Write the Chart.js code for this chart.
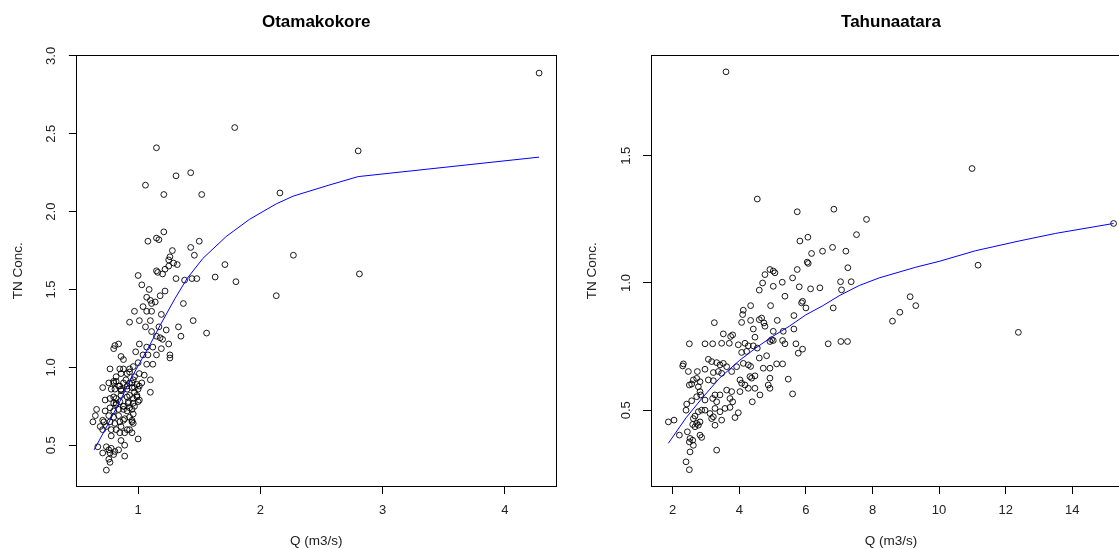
<!DOCTYPE html>
<html>
<head>
<meta charset="utf-8">
<script src="https://cdn.jsdelivr.net/npm/chart.js@4.4.0/dist/chart.umd.min.js"></script>
<style>
  html, body { margin: 0; padding: 0; background: #fff; width: 1119px; height: 549px; overflow: hidden; }
  canvas { position: absolute; top: 0; }
  #ota { left: 0; }
  #tah { left: 560px; }
</style>
</head>
<body>
<canvas id="ota" width="560" height="549"></canvas>
<canvas id="tah" width="580" height="549"></canvas>
<script>
var xLabel = 'Q (m3/s)';
var yLabel = 'TN Conc.';

// Otamakokore: flow vs total nitrogen
var otaQ = [
  4.28,1.79,1.15,2.80,1.43,1.31,1.06,1.21,1.52,2.16,
  1.21,1.08,1.15,1.17,1.50,1.43,1.46,2.27,1.28,1.26,
  1.29,1.32,1.25,1.71,1.22,1.20,1.15,1.16,1.00,1.31,
  1.38,1.44,1.48,1.63,1.80,2.81,2.13,1.03,1.09,1.22,
  1.25,
  1.07,1.10,1.14,1.18,1.11,1.37,1.04,0.97,1.07,1.11,
  1.19,1.01,1.10,0.93,1.06,1.45,1.33,1.35,1.56,1.17,
  1.23,1.11,1.15,1.18,1.20,0.84,0.81,0.80,1.01,1.07,
  1.12,1.19,1.25,0.98,1.04,1.08,1.15,1.26,1.26,0.86,
  0.88,1.12,1.07,1.00,0.96,
  0.77,0.85,0.88,0.93,0.82,0.86,0.91,0.93,0.97,1.01,
  1.05,1.10,0.76,0.80,0.82,0.85,0.88,0.91,0.93,0.96,
  0.99,1.03,0.71,0.78,0.81,0.86,0.91,0.95,0.97,1.00,
  1.10,0.73,0.80,0.82,0.86,0.91,0.93,0.96,0.99,1.01,
  0.80,0.82,0.85,0.88,0.92,0.96,1.00,0.66,0.73,0.77,
  0.80,0.84,0.88,0.91,0.93,0.97,0.65,0.76,0.80,0.84,
  0.89,0.93,0.96,0.95,0.63,0.71,0.77,0.81,0.85,0.88,
  0.95,0.69,0.74,0.78,0.71,0.82,0.86,0.91,0.93,0.95,
  0.85,0.89,0.78,0.86,1.00,0.67,0.74,0.76,0.78,0.81,
  0.84,0.89,0.71,0.77,0.80,0.76,0.89,0.77,0.74,
  0.80,0.84,0.86,0.90,0.95,0.97,0.99,1.01,0.92,0.88,
  0.95,0.82,0.77,0.72,0.96
];
var otaTN = [
  2.89,2.54,2.41,2.39,2.25,2.23,2.17,2.11,2.11,2.12,
  1.87,1.81,1.83,1.82,1.81,1.77,1.72,1.72,1.75,1.71,
  1.67,1.66,1.65,1.66,1.63,1.60,1.62,1.61,1.59,1.57,
  1.56,1.57,1.57,1.58,1.55,1.60,1.46,1.53,1.50,1.49,
  1.69,
  1.45,1.43,1.42,1.46,1.41,1.41,1.39,1.36,1.36,1.36,
  1.34,1.30,1.30,1.29,1.26,1.30,1.26,1.20,1.22,1.26,
  1.24,1.23,1.20,1.19,1.18,1.15,1.14,1.12,1.15,1.13,
  1.13,1.12,1.15,1.10,1.08,1.08,1.08,1.08,1.06,1.07,
  1.05,1.02,1.02,1.03,1.005,
  0.99,0.99,0.99,0.99,0.94,0.96,0.96,0.97,0.94,0.96,
  0.95,0.92,0.90,0.90,0.91,0.88,0.90,0.88,0.90,0.92,
  0.89,0.90,0.87,0.86,0.86,0.86,0.86,0.87,0.84,0.86,
  0.84,0.79,0.81,0.80,0.82,0.81,0.82,0.80,0.81,0.79,
  0.77,0.76,0.78,0.75,0.77,0.77,0.78,0.73,0.72,0.74,
  0.72,0.73,0.73,0.72,0.74,0.75,0.69,0.69,0.68,0.69,
  0.67,0.68,0.70,0.66,0.65,0.66,0.65,0.64,0.65,0.66,
  0.65,0.62,0.62,0.60,0.60,0.60,0.62,0.60,0.60,0.58,
  0.58,0.58,0.56,0.53,0.54,0.49,0.49,0.47,0.48,0.46,
  0.47,0.50,0.45,0.45,0.44,0.41,0.43,0.39,0.34,
  0.91,0.88,0.85,0.92,0.90,0.87,0.82,0.88,0.78,0.75,
  0.73,0.77,0.80,0.65,0.64
];
// smoothed curve
var otaFitQ  = [0.64,0.75,0.85,0.93,1.00,1.10,1.18,1.30,1.40,1.53,1.72,1.91,2.13,2.27,2.56,2.80,4.28];
var otaFitTN = [0.47,0.63,0.78,0.91,1.01,1.15,1.27,1.44,1.57,1.70,1.84,1.95,2.05,2.10,2.17,2.225,2.35];
var otaXTicks = [1, 2, 3, 4];
var otaYTicks = [0.5, 1.0, 1.5, 2.0, 2.5, 3.0];

// Tahunaatara: flow vs total nitrogen
var tahQ = [
  3.60,4.54,10.99,5.74,6.84,7.82,15.24,7.52,5.82,6.06,
  7.20,6.80,11.17,7.26,7.04,7.36,7.07,9.13,9.30,8.82,
  8.60,12.38,3.25,7.05,7.25,4.39,
  6.17,6.50,6.04,6.07,5.02,5.07,4.77,4.92,5.60,5.74,
  4.70,4.60,5.02,5.29,5.80,6.14,6.42,5.37,5.90,5.87,
  6.00,6.82,4.34,4.12,4.10,4.94,5.64,4.07,4.34,4.60,
  4.67,4.74,4.77,5.14,4.42,5.02,5.32,5.64,4.97,4.92,
  5.02,5.30,5.37,5.70,5.90,5.77,6.67,4.47,4.42,4.54,
  4.82,4.60,4.34,4.72,4.92,5.12,5.30,4.92,5.47,4.87,
  4.92,4.47,4.37,4.32,4.47,4.62,5.60,
  3.52,3.74,3.80,2.50,2.97,3.20,3.47,3.70,3.97,4.17,
  4.27,4.07,4.22,2.32,2.30,2.47,2.74,2.97,3.07,3.17,
  3.32,3.42,3.52,3.62,3.37,3.22,3.47,3.77,3.92,4.12,
  4.27,2.62,2.72,2.82,2.57,2.77,2.50,3.07,3.22,4.02,
  4.07,4.17,4.02,4.27,2.82,2.84,2.72,3.27,3.20,3.42,
  3.62,3.77,3.72,3.80,3.57,3.42,3.27,3.12,2.97,3.22,
  3.72,3.97,3.87,2.42,2.40,2.57,2.77,2.87,2.67,2.62,
  2.72,2.77,2.82,2.60,2.67,2.44,2.82,2.87,2.52,2.50,
  2.60,2.62,2.52,3.32,1.87,2.04,2.20,2.40,2.50,3.17,
  3.27,3.47,3.32,2.97
];
var tahTN = [
  1.83,1.33,1.45,1.28,1.29,1.25,1.234,1.19,1.165,1.18,
  1.125,1.14,1.07,1.06,1.005,1.005,0.973,0.946,0.911,0.885,
  0.85,0.806,0.844,0.77,0.77,0.533,
  1.116,1.125,1.082,1.077,1.047,1.040,1.033,1.053,1.020,1.053,
  1.000,0.972,0.987,1.003,0.985,0.977,0.981,0.948,0.928,0.922,
  0.902,0.902,0.911,0.893,0.876,0.911,0.872,0.845,0.853,0.856,
  0.862,0.843,0.830,0.853,0.819,0.810,0.810,0.819,0.777,0.770,
  0.774,0.774,0.761,0.761,0.740,0.724,0.761,0.787,0.753,0.744,
  0.714,0.705,0.672,0.665,0.665,0.682,0.682,0.626,0.622,0.599,
  0.586,0.635,0.626,0.632,0.586,0.560,0.564,
  0.800,0.790,0.796,0.761,0.761,0.761,0.763,0.763,0.757,0.763,
  0.753,0.727,0.731,0.682,0.674,0.652,0.652,0.661,0.700,0.691,
  0.687,0.678,0.684,0.671,0.652,0.648,0.645,0.652,0.671,0.684,
  0.678,0.619,0.625,0.612,0.603,0.592,0.599,0.619,0.616,0.619,
  0.606,0.599,0.573,0.586,0.573,0.560,0.553,0.560,0.546,0.560,
  0.579,0.573,0.546,0.533,0.507,0.494,0.507,0.487,0.500,0.474,
  0.511,0.490,0.471,0.524,0.500,0.537,0.494,0.500,0.477,0.467,
  0.448,0.441,0.454,0.444,0.435,0.415,0.402,0.393,0.389,0.375,
  0.382,0.362,0.336,0.343,0.454,0.461,0.402,0.297,0.266,0.467,
  0.441,0.461,0.533,0.540
];
var tahFitQ  = [1.87,2.40,2.90,3.40,4.00,4.50,5.00,5.50,6.00,6.50,7.00,7.60,8.20,9.30,10.0,11.1,12.4,13.5,15.24];
var tahFitTN = [0.37,0.47,0.55,0.625,0.695,0.745,0.79,0.83,0.875,0.91,0.95,0.99,1.02,1.062,1.085,1.127,1.165,1.195,1.234];
var tahXTicks = [2, 4, 6, 8, 10, 12, 14];
var tahYTicks = [0.5, 1.0, 1.5];

var FONT = "'Liberation Sans', Arial, sans-serif";

// R style frame round the plot region
var boxPlugin = {
  id: 'box',
  afterDraw: function(chart) {
    var a = chart.chartArea, ctx = chart.ctx;
    ctx.save();
    ctx.strokeStyle = '#000';
    ctx.lineWidth = 1;
    ctx.strokeRect(Math.round(a.left) + 0.5, Math.round(a.top) + 0.5,
                   Math.round(a.right - a.left), Math.round(a.bottom - a.top));
    ctx.restore();
  }
};

function pairs(xs, ys) {
  return xs.map(function(x, i) { return {x: x, y: ys[i]}; });
}

/*
 * one panel
 * [p] - data, ranges and margins of the panel
 */
function drawPanel(id, p) {
  return new Chart(document.getElementById(id), {
    type: 'scatter',
    data: {
      datasets: [{
        type: 'line',
        data: pairs(p.fitQ, p.fitTN),
        borderColor: '#0000ff',
        borderWidth: 1,
        pointRadius: 0,
        fill: false,
        tension: 0,
        order: 0
      }, {
        data: pairs(p.q, p.tn),
        borderColor: 'rgba(0,0,0,0.9)',
        backgroundColor: 'rgba(0,0,0,0)',
        borderWidth: 1,
        pointRadius: 2.9,
        pointHoverRadius: 2.9,
        order: 1
      }]
    },
    options: {
      responsive: false,
      animation: false,
      events: [],
      layout: { padding: { left: 0, right: p.padRight, top: 0, bottom: 0 } },
      plugins: {
        legend: { display: false },
        tooltip: { enabled: false },
        title: {
          display: true,
          text: p.title,
          fullSize: false,
          color: '#000',
          font: { family: FONT, size: 17, weight: 'bold' },
          padding: { top: 12.6, bottom: 22.3 }
        }
      },
      scales: {
        x: {
          type: 'linear',
          min: p.xMin, max: p.xMax,
          afterBuildTicks: function(s) { s.ticks = p.xTicks.map(function(v) { return {value: v}; }); },
          afterFit: function(s) { s.height = 63; },
          grid: { display: true, drawOnChartArea: false, drawTicks: true, tickLength: 8, color: '#000' },
          border: { display: false },
          ticks: { color: '#222', font: { family: FONT, size: 13 }, padding: 9, maxRotation: 0,
                   callback: function(v) { return String(v); } },
          title: { display: true, text: xLabel, color: '#222', font: { family: FONT, size: 13.5 },
                   padding: { top: 0, bottom: 0 } }
        },
        y: {
          type: 'linear',
          min: p.yMin, max: p.yMax,
          afterBuildTicks: function(s) { s.ticks = p.yTicks.map(function(v) { return {value: v}; }); },
          afterFit: function(s) { s.width = p.yWidth; },
          grid: { display: true, drawOnChartArea: false, drawTicks: true, tickLength: 7.5, color: '#000' },
          border: { display: false },
          ticks: { color: '#222', font: { family: FONT, size: 13 }, padding: 8,
                   minRotation: 90, maxRotation: 90, crossAlign: 'center',
                   callback: function(v) { return Number(v).toFixed(1); } },
          title: { display: true, text: yLabel, color: '#222', font: { family: FONT, size: 13.5 },
                   padding: { top: p.yTitlePad, bottom: 0 } }
        }
      }
    },
    plugins: [boxPlugin]
  });
}

drawPanel('ota', {
  title: 'Otamakokore',
  q: otaQ, tn: otaTN, fitQ: otaFitQ, fitTN: otaFitTN,
  xTicks: otaXTicks, yTicks: otaYTicks,
  xMin: 0.495, xMax: 4.419, yMin: 0.238, yMax: 3.004,
  yWidth: 76.4, padRight: 3, yTitlePad: 10.5
});

drawPanel('tah', {
  title: 'Tahunaatara',
  q: tahQ, tn: tahTN, fitQ: tahFitQ, fitTN: tahFitTN,
  xTicks: tahXTicks, yTicks: tahYTicks,
  xMin: 1.333, xMax: 15.775, yMin: 0.202, yMax: 1.895,
  yWidth: 90.5, padRight: 8.6, yTitlePad: 23.9
});
</script>
</body>
</html>
